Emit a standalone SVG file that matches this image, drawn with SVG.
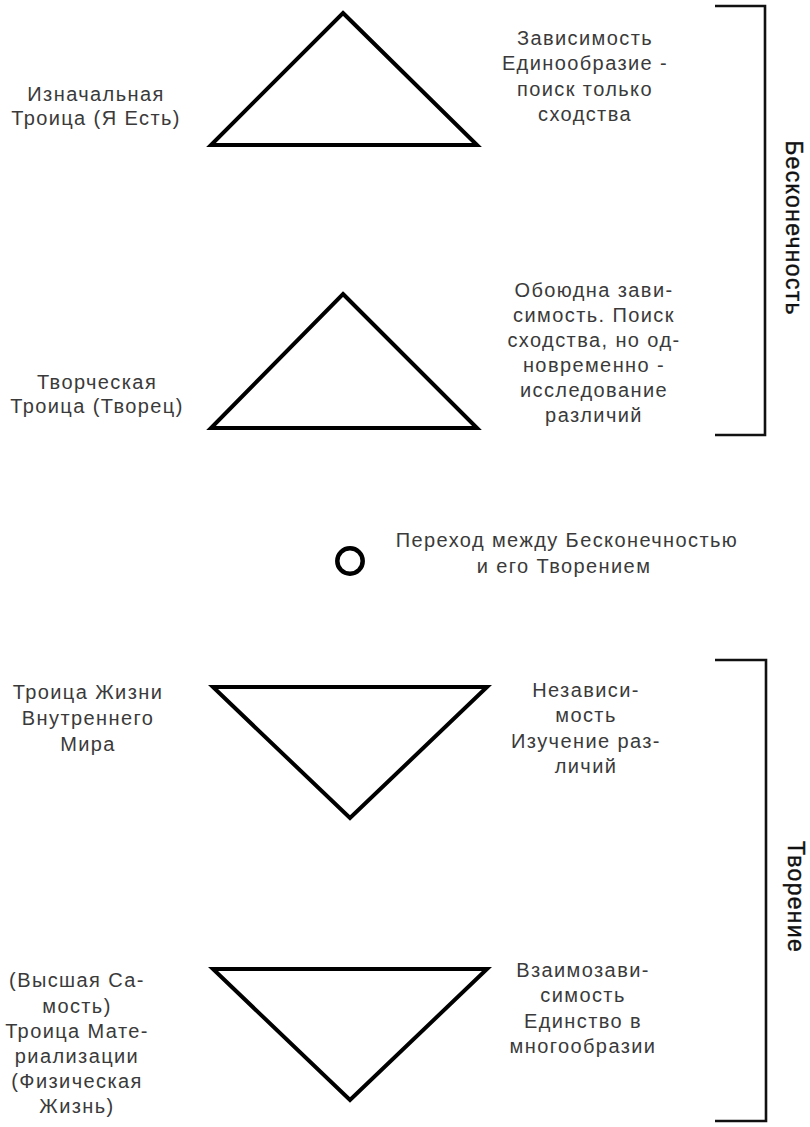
<svg xmlns="http://www.w3.org/2000/svg" width="810" height="1127" viewBox="0 0 810 1127">
<style>
.t{font-family:"Liberation Sans",Arial,sans-serif;font-weight:400;font-size:20px;fill:#3a3a3a;text-anchor:middle;letter-spacing:1.4px}
.side{font-family:"Liberation Sans",Arial,sans-serif;font-weight:400;font-size:23px;fill:#111;text-anchor:middle;letter-spacing:1.3px;stroke:#111;stroke-width:0.4}
.tri{fill:none;stroke:#000;stroke-width:4;stroke-linejoin:miter}
.br{fill:none;stroke:#111;stroke-width:2.6}
</style>
<rect width="810" height="1127" fill="#fff"/>
<g id="tri1"><polygon class="tri" points="343,13 477,145 211,145"/></g>
<g id="tri2"><polygon class="tri" points="343,294 477,428 211,428"/></g>
<g id="tri3"><polygon class="tri" points="213,687 487,687 350,818"/></g>
<g id="tri4"><polygon class="tri" points="213,969 487,969 350,1100"/></g>
<g id="circle"><circle cx="350" cy="561" r="12.7" fill="none" stroke="#000" stroke-width="4.5"/></g>
<g id="connectors">
<polyline class="br" points="715,6 765,6 765,435 715,435"/>
<polyline class="br" points="715,660 766,660 766,1121 715,1121"/>
</g>
<g id="label-infinity"><text class="side" transform="translate(786,228) rotate(90)">Бесконечность</text></g>
<g id="label-creation"><text class="side" transform="translate(788,897) rotate(90)">Творение</text></g>
<g id="left1"><text class="t" x="96" y="101">Изначальная</text><text class="t" x="96" y="125">Троица (Я Есть)</text></g>
<g id="left2"><text class="t" x="97" y="389">Творческая</text><text class="t" x="97" y="413">Троица (Творец)</text></g>
<g id="left3"><text class="t" x="88" y="699">Троица Жизни</text><text class="t" x="88" y="725">Внутреннего</text><text class="t" x="88" y="751">Мира</text></g>
<g id="left4"><text class="t" x="77" y="987">(Высшая Са-</text><text class="t" x="77" y="1013">мость)</text><text class="t" x="77" y="1038">Троица Мате-</text><text class="t" x="77" y="1063">риализации</text><text class="t" x="77" y="1088">(Физическая</text><text class="t" x="77" y="1113">Жизнь)</text></g>
<g id="right1"><text class="t" x="585" y="45">Зависимость</text><text class="t" x="585" y="70">Единообразие -</text><text class="t" x="585" y="96">поиск только</text><text class="t" x="585" y="121">сходства</text></g>
<g id="right2"><text class="t" x="594" y="297">Обоюдна зави-</text><text class="t" x="594" y="322">симость. Поиск</text><text class="t" x="594" y="347">сходства, но од-</text><text class="t" x="594" y="372">новременно -</text><text class="t" x="594" y="397">исследование</text><text class="t" x="594" y="422">различий</text></g>
<g id="transition"><text class="t" x="567" y="547">Переход между Бесконечностью</text><text class="t" x="564" y="573">и его Творением</text></g>
<g id="right3"><text class="t" x="586" y="697">Независи-</text><text class="t" x="586" y="722">мость</text><text class="t" x="586" y="748">Изучение раз-</text><text class="t" x="586" y="773">личий</text></g>
<g id="right4"><text class="t" x="583" y="977">Взаимозави-</text><text class="t" x="583" y="1002">симость</text><text class="t" x="583" y="1028">Единство в</text><text class="t" x="583" y="1053">многообразии</text></g>
</svg>
